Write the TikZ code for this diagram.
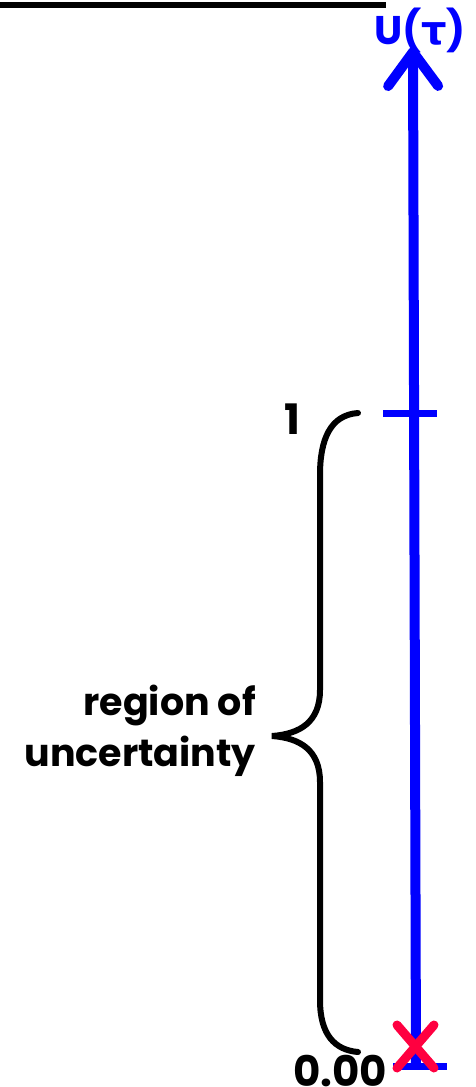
\documentclass[tikz,border=0pt]{standalone}
\usepackage{fontspec}
\setmainfont{Poppins}
\newfontfamily\grfont{DejaVu Sans}
\usetikzlibrary{arrows.meta}
\definecolor{xred}{RGB}{255,0,64}
\begin{document}
\begin{tikzpicture}[x=1pt,y=-1pt,
  axisline/.style={blue,line width=10pt,-{Straight Barb[length=34pt,width=50pt,line cap=round,line join=round]}},
  tickline/.style={blue,line width=7pt},
  bracepath/.style={black,line width=6pt,line cap=round},
  lbl/.style={font=\bfseries\fontsize{42}{48}\selectfont,inner sep=0pt},
  crossline/.style={xred,line width=9pt,line cap=round}]
\useasboundingbox (0,0) rectangle (476,1087);
\draw[black,line width=6pt] (0,5) -- (386,5);
\coordinate (bot) at (416,1066);
\coordinate (top) at (413,47);
\draw[axisline] (bot) -- (top);
\node[lbl,blue,font=\bfseries\fontsize{40}{48}\selectfont] (U) at (420,30) {U({\grfont\bfseries τ})};
\coordinate (t1l) at (383,413);
\coordinate (t1r) at (437,413);
\draw[tickline] (t1l) -- (t1r);
\coordinate (t0l) at (393,1066);
\coordinate (t0r) at (447,1066);
\draw[tickline] (t0l) -- (t0r);
\node[lbl,anchor=north] (one) at (292,404) {1};
\node[lbl,anchor=north] (zero) at (340,1055) {0.00};
\draw[bracepath] (358,413) .. controls (330,415) and (320,440) .. (320,475) -- (320,690)
  .. controls (320,722) and (300,734) .. (272,736)
  .. controls (300,738) and (320,750) .. (320,782) -- (320,1000)
  .. controls (320,1035) and (335,1050) .. (358,1052);
\node[lbl,align=right,anchor=east,font=\bfseries\fontsize{38}{51}\selectfont] (reg) at (256,731) {region of\\uncertainty};
\coordinate (xa) at (397,1025);
\coordinate (xb) at (434,1068);
\coordinate (xc) at (434,1025);
\coordinate (xd) at (397,1068);
\draw[crossline] (xa) -- (xb);
\draw[crossline] (xc) -- (xd);
\end{tikzpicture}
\end{document}
